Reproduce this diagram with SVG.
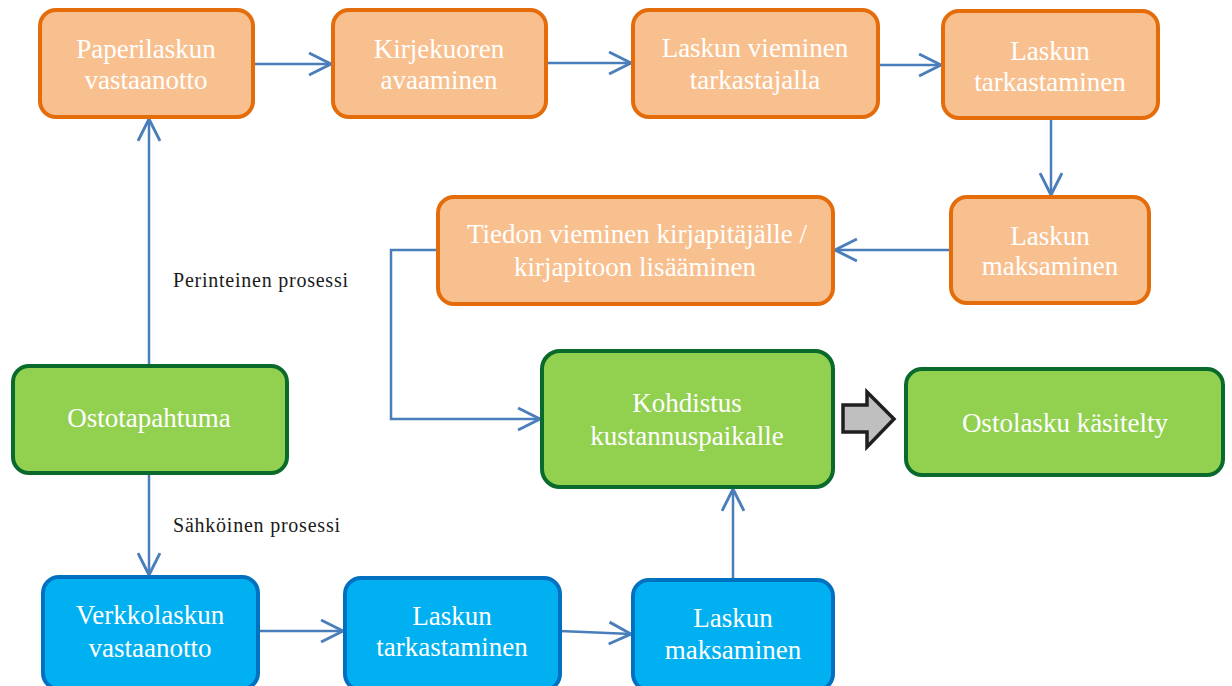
<svg xmlns="http://www.w3.org/2000/svg" width="1232" height="686" viewBox="0 0 1232 686">
<style>
.o{fill:#F9C08F;stroke:#E46C0A;stroke-width:4}
.g{fill:#92D050;stroke:#0A6A2C;stroke-width:4}
.b{fill:#00B0F0;stroke:#0070C0;stroke-width:4}
.t{font-family:'Liberation Serif','DejaVu Serif',serif;font-size:27px;fill:#FFFFFF;text-anchor:middle}
.l{font-family:'Liberation Serif','DejaVu Serif',serif;font-size:20px;fill:#1A1A1A}
.c{fill:none;stroke:#4A7EBB;stroke-width:2.5}
</style>
<defs>
<marker id="ah" markerUnits="userSpaceOnUse" markerWidth="30" markerHeight="30" viewBox="-22 -12 26 24" refX="0" refY="0" orient="auto">
<path d="M-19,-9.5 L0,0 L-19,9.5" fill="none" stroke="#4A7EBB" stroke-width="2.5"/>
</marker>
</defs>
<rect width="1232" height="686" fill="#FFFFFF"/>
<g id="connectors">
<line class="c" x1="253" y1="64" x2="331" y2="64" marker-end="url(#ah)"/>
<line class="c" x1="546" y1="63" x2="631" y2="63" marker-end="url(#ah)"/>
<line class="c" x1="878" y1="65" x2="941" y2="65" marker-end="url(#ah)"/>
<line class="c" x1="1051" y1="119" x2="1051" y2="195" marker-end="url(#ah)"/>
<line class="c" x1="950" y1="250" x2="835" y2="250" marker-end="url(#ah)"/>
<polyline class="c" points="438,250 391,250 391,419 540,419" marker-end="url(#ah)"/>
<line class="c" x1="149" y1="366" x2="149" y2="119" marker-end="url(#ah)"/>
<line class="c" x1="149" y1="473" x2="149" y2="575" marker-end="url(#ah)"/>
<line class="c" x1="258" y1="631" x2="343" y2="631" marker-end="url(#ah)"/>
<line class="c" x1="560" y1="631" x2="631" y2="634" marker-end="url(#ah)"/>
<line class="c" x1="733" y1="580" x2="733" y2="489" marker-end="url(#ah)"/>
<path d="M843,405 L867,405 L867,392 L894,419 L867,447 L867,432 L843,432 Z" fill="#BFBFBF" stroke="#1F1F1F" stroke-width="3.5" stroke-linejoin="miter"/>
</g>
<g id="label-perinteinen"><text class="l" x="173" y="287" textLength="175" lengthAdjust="spacing">Perinteinen prosessi</text></g>
<g id="label-sahkoinen"><text class="l" x="173" y="532" textLength="167" lengthAdjust="spacing">Sähköinen prosessi</text></g>
<g id="n1"><rect class="o" x="40" y="10" width="213" height="107" rx="16"/><text class="t" x="146" y="58">Paperilaskun</text><text class="t" x="146" y="89">vastaanotto</text></g>
<g id="n2"><rect class="o" x="333" y="10" width="213" height="107" rx="16"/><text class="t" x="439" y="58">Kirjekuoren</text><text class="t" x="439" y="89">avaaminen</text></g>
<g id="n3"><rect class="o" x="633" y="10" width="245" height="107" rx="16"/><text class="t" x="755" y="57">Laskun vieminen</text><text class="t" x="755" y="89">tarkastajalla</text></g>
<g id="n4"><rect class="o" x="943" y="11" width="215" height="107" rx="16"/><text class="t" x="1050" y="60">Laskun</text><text class="t" x="1050" y="91">tarkastaminen</text></g>
<g id="n5"><rect class="o" x="951" y="197" width="198" height="106" rx="16"/><text class="t" x="1050" y="245">Laskun</text><text class="t" x="1050" y="275">maksaminen</text></g>
<g id="n6"><rect class="o" x="438" y="197" width="395" height="107" rx="16"/><text class="t" x="637" y="243">Tiedon vieminen kirjapitäjälle /</text><text class="t" x="635" y="276">kirjapitoon lisääminen</text></g>
<g id="n7"><rect class="g" x="542" y="351" width="291" height="136" rx="18"/><text class="t" x="687" y="412">Kohdistus</text><text class="t" x="687" y="445">kustannuspaikalle</text></g>
<g id="n8"><rect class="g" x="906" y="369" width="317" height="106" rx="16"/><text class="t" x="1065" y="432">Ostolasku käsitelty</text></g>
<g id="n9"><rect class="g" x="13" y="366" width="274" height="107" rx="16"/><text class="t" x="149" y="427">Ostotapahtuma</text></g>
<g id="n10"><rect class="b" x="43" y="577" width="215" height="112" rx="16"/><text class="t" x="150" y="624">Verkkolaskun</text><text class="t" x="150" y="657">vastaanotto</text></g>
<g id="n11"><rect class="b" x="345" y="578" width="215" height="112" rx="16"/><text class="t" x="452" y="625">Laskun</text><text class="t" x="452" y="656">tarkastaminen</text></g>
<g id="n12"><rect class="b" x="633" y="580" width="200" height="110" rx="16"/><text class="t" x="733" y="627">Laskun</text><text class="t" x="733" y="659">maksaminen</text></g>
</svg>
